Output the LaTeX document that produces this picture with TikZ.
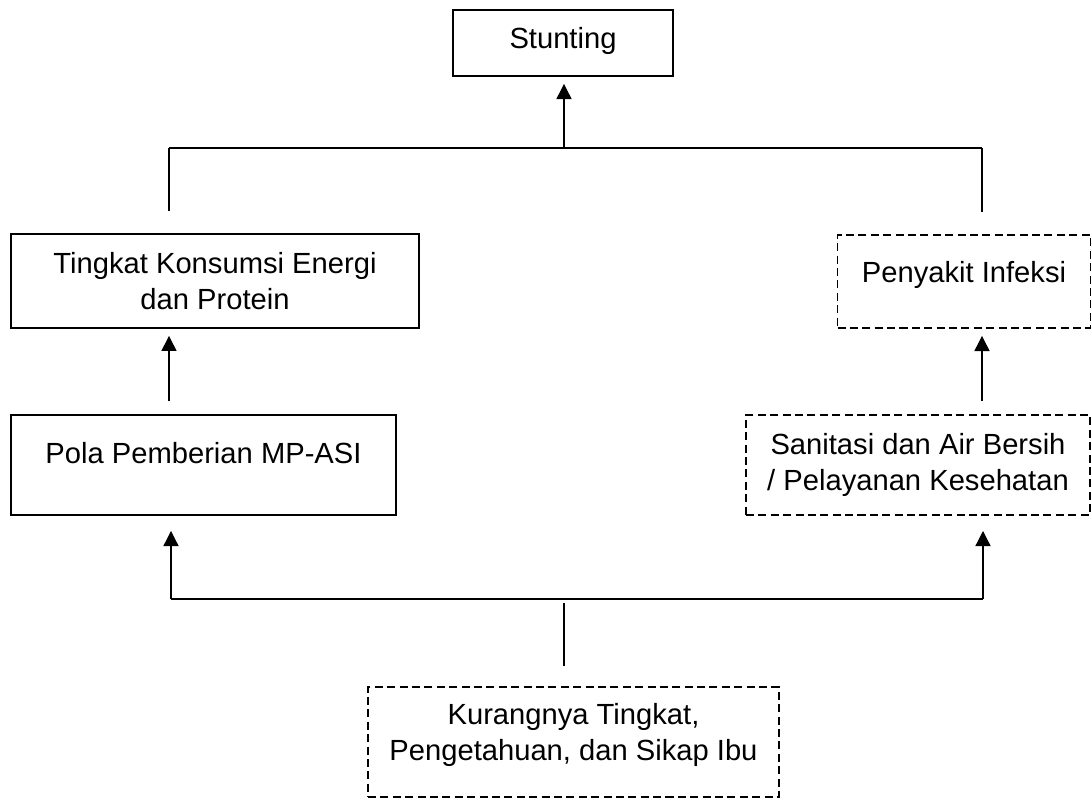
\documentclass[tikz,border=0pt]{standalone}
\usepackage{fontspec}
\setmainfont{Liberation Sans}
\usetikzlibrary{arrows.meta}
\tikzstyle{box} = [rectangle, draw=black, line width=0.7pt, align=center, inner sep=2pt, font=\fontsize{12pt}{14.8pt}\selectfont]
\tikzstyle{box_dash} = [box, dash pattern=on 3.3pt off 1.8pt]
\tikzstyle{line} = [line width=0.5pt]
\tikzstyle{arrow} = [line width=0.5pt,->,>={Triangle[length=6.2pt,width=6.2pt]}]

\begin{document}
\begin{tikzpicture}[x=0.4115pt, y=-0.4115pt]
		\useasboundingbox (0,0) rectangle (1092,800);

		\node (stunting) [box, minimum width=90.5pt, minimum height=27.2pt, text depth=4.1pt] at (563,43) {Stunting};
		\node (tingkat) [box, minimum width=167.9pt, minimum height=38.7pt] at (215,281) {Tingkat Konsumsi Energi\\dan Protein};
		\node (infeksi) [box_dash, minimum width=104.1pt, minimum height=38.3pt, text depth=8pt] at (964,281.5) {Penyakit Infeksi};
		\node (pola) [box, minimum width=158.4pt, minimum height=41.2pt, text depth=9.6pt] at (203.5,465) {Pola Pemberian MP-ASI};
		\node (sanitasi) [box_dash, minimum width=141.6pt, minimum height=41.2pt] at (918,465) {Sanitasi dan Air Bersih\\/ Pelayanan Kesehatan};
		\node (kurang) [box_dash, minimum width=169.1pt, minimum height=45.3pt] at (573.5,742) {Kurangnya Tingkat,\\Pengetahuan, dan Sikap Ibu\rule[-8pt]{0pt}{8pt}};

		\coordinate (top_l) at (169,148);
		\coordinate (top_m) at (564,148);
		\coordinate (top_r) at (982,148);
		\coordinate (bot_l) at (171,599);
		\coordinate (bot_m) at (564,599);
		\coordinate (bot_r) at (983,599);

		\draw [line] (top_l) -- (top_r);
		\draw [arrow, shorten >=2.9pt] (top_m) -- (top_m |- stunting.south);
		\draw [line, shorten >=9pt] (top_l) -- (top_l |- tingkat.north);
		\draw [line, shorten >=9pt] (top_r) -- (top_r |- infeksi.north);
		\draw [arrow, shorten <=5.3pt, shorten >=2.9pt] (top_l |- pola.north) -- (top_l |- tingkat.south);
		\draw [arrow, shorten <=5.3pt, shorten >=2.9pt] (top_r |- sanitasi.north) -- (top_r |- infeksi.south);

		\draw [line] (bot_l) -- (bot_r);
		\draw [arrow, shorten >=6.2pt] (bot_l) -- (bot_l |- pola.south);
		\draw [arrow, shorten >=6.2pt] (bot_r) -- (bot_r |- sanitasi.south);
		\draw [line, shorten <=1.6pt, shorten >=8.2pt] (bot_m) -- (bot_m |- kurang.north);
	\end{tikzpicture}
\end{document}
